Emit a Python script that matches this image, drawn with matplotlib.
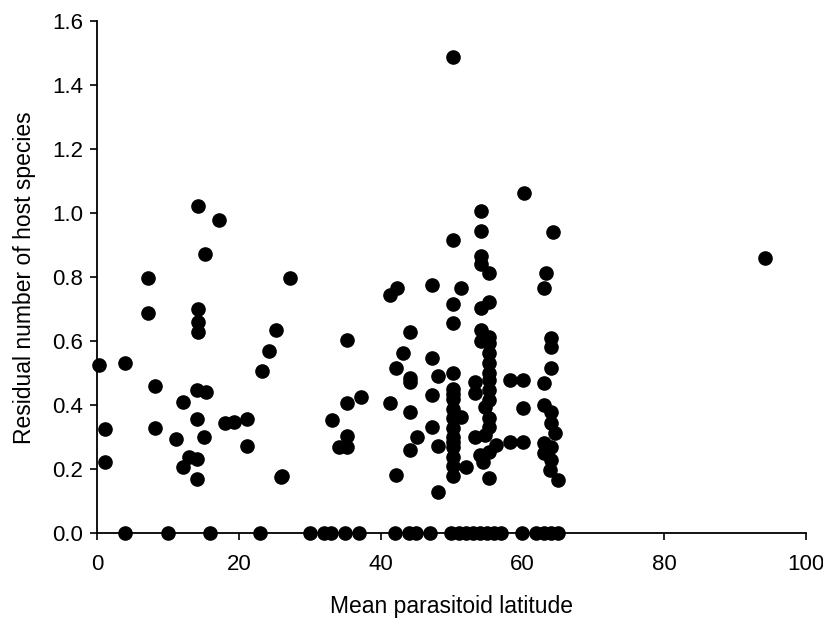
import matplotlib
matplotlib.use("Agg")
import matplotlib.pyplot as plt

plt.rcParams["font.family"] = ["Liberation Sans", "DejaVu Sans"]

# mean parasitoid latitude / residual number of host species
lat = [
    0.2, 1.1, 1.1, 4.0, 7.2, 7.2, 8.1, 8.1, 11.1, 12.1, 12.1, 12.9, 14.1, 14.1,
    14.1, 14.1, 15.3, 15.1, 14.2, 14.2, 14.2, 14.3, 15.2, 17.2, 18.0, 19.3,
    21.2, 21.2, 23.2, 24.2, 25.3, 26.1, 25.9, 27.2,
    33.1, 34.2, 35.2, 35.2, 35.2, 35.2, 37.3, 41.3, 41.3, 42.3, 42.2, 42.2,
    43.2, 44.2, 44.2, 44.2, 44.2, 44.2, 45.1, 47.2, 47.2, 47.2, 47.2, 48.1,
    48.1, 48.1,
    50.2, 50.2, 50.2, 50.2, 50.2, 50.2, 50.2, 50.2, 50.2, 50.2, 50.2, 50.2,
    50.2, 50.2, 50.2, 50.2, 50.2, 51.3, 51.3, 52.1,
    54.2, 54.2, 54.2, 54.2, 55.3, 54.2, 55.3, 54.2, 55.3, 55.3, 55.3, 55.3,
    53.3, 55.3, 55.3, 55.3, 54.7, 53.3, 55.3, 55.3, 53.3, 54.7, 56.3, 55.3,
    54.0, 54.4, 55.3, 54.2, 55.3,
    58.2, 60.1, 60.1, 58.2, 60.1, 60.3,
    64.3, 63.3, 63.1, 64.1, 64.1, 64.1, 63.1, 63.1, 64.1, 64.1, 64.6, 63.1,
    64.1, 63.1, 64.1, 63.9, 65.0,
    94.2,
]
resid = [
    0.526, 0.326, 0.224, 0.533, 0.797, 0.687, 0.461, 0.328, 0.295, 0.410,
    0.209, 0.240, 0.232, 0.170, 0.356, 0.448, 0.443, 0.300, 0.701, 0.661,
    0.630, 1.022, 0.872, 0.979, 0.346, 0.349, 0.356, 0.273, 0.508, 0.570,
    0.635, 0.180, 0.175, 0.799,
    0.354, 0.271, 0.271, 0.304, 0.408, 0.604, 0.427, 0.406, 0.745, 0.766,
    0.516, 0.183, 0.565, 0.630, 0.485, 0.474, 0.380, 0.261, 0.302, 0.776,
    0.547, 0.432, 0.333, 0.492, 0.273, 0.129,
    1.487, 0.916, 0.717, 0.656, 0.500, 0.450, 0.420, 0.390, 0.360, 0.330,
    0.300, 0.270, 0.240, 0.210, 0.180, 0.435, 0.285, 0.766, 0.365, 0.209,
    1.007, 0.945, 0.866, 0.843, 0.812, 0.703, 0.724, 0.635, 0.614, 0.594,
    0.563, 0.531, 0.474, 0.479, 0.448, 0.417, 0.396, 0.438, 0.360, 0.333,
    0.302, 0.307, 0.276, 0.255, 0.245, 0.224, 0.172, 0.600, 0.500,
    0.479, 0.479, 0.391, 0.287, 0.287, 1.064,
    0.942, 0.812, 0.766, 0.609, 0.583, 0.516, 0.469, 0.401, 0.380, 0.344,
    0.313, 0.282, 0.271, 0.250, 0.229, 0.198, 0.167,
    0.860,
]
# parasitoids with zero residual
lat_zero = [4, 10, 16, 23, 30, 32, 33, 35, 37, 42, 44, 45, 47,
            50, 51, 52, 53, 54, 55, 56, 57, 60, 62, 63, 64, 65]

fig = plt.figure(figsize=(8.23, 6.21), dpi=100)
ax = fig.add_axes([0.118, 0.141, 0.861, 0.825])

ax.plot(lat, resid, "o", color="black", markersize=9.5, clip_on=False, zorder=3)
ax.plot(lat_zero, [0.0] * len(lat_zero), "o", color="black", markersize=9.5,
        clip_on=False, zorder=3)

ax.set_xlim(0, 100)
ax.set_ylim(0, 1.6)
ax.set_xticks([0, 20, 40, 60, 80, 100])
ax.set_yticks([0.0, 0.2, 0.4, 0.6, 0.8, 1.0, 1.2, 1.4, 1.6])
ax.set_yticklabels([f"{v:.1f}" for v in ax.get_yticks()])

for side in ("top", "right"):
    ax.spines[side].set_visible(False)
for side in ("left", "bottom"):
    ax.spines[side].set_linewidth(1.3)
ax.tick_params(direction="out", length=5, width=1.2, labelsize=16, pad=5)
ax.tick_params(axis="x", pad=10)

ax.set_xlabel("Mean parasitoid latitude", fontsize=16.5, labelpad=14)
ax.set_ylabel("Residual number of host species", fontsize=16.5, labelpad=12)

fig.savefig("out.png", dpi=100)
